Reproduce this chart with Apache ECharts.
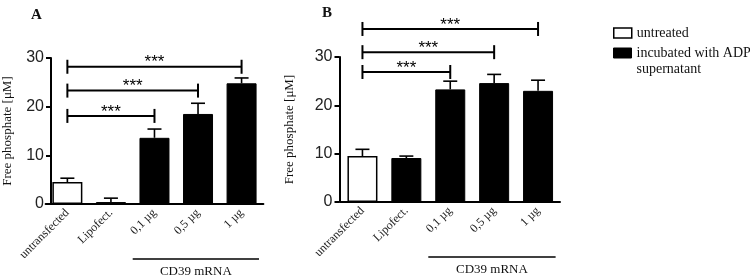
<!DOCTYPE html>
<html>
<head>
<meta charset="utf-8">
<script src="https://cdn.jsdelivr.net/npm/echarts@6/dist/echarts.min.js"></script>
<style>
  html, body { margin: 0; padding: 0; background: #fff; }
  #main { width: 750px; height: 277px; }
</style>
</head>
<body>
<div id="main"></div>
<script>
// categories and values
var categories = ['untransfected', 'Lipofect.', '0,1 µg', '0,5 µg', '1 µg'];
var untreatedIdx = [1, 0, 0, 0, 0];          // 1 = white bar (untreated)
var meanA = [4.5, 0.4, 13.6, 18.5, 24.8];
var errA  = [0.8, 0.8, 1.8, 2.2, 1.1];
var meanB = [9.5, 9.1, 23.3, 24.6, 23.0];
var errB  = [1.4, 0.4, 1.7, 1.8, 2.2];
var yTicks = [0, 10, 20, 30];
// significance brackets: from category 0 to category "end" at level
var bracketEndA = [2, 3, 4];
var bracketLvlA = [18.1, 23.3, 28.2];
var bracketEndB = [2, 3, 4];
var bracketLvlB = [26.9, 31.0, 35.8];
var bracketText = '***';
var groupLabel = 'CD39 mRNA';
var groupRange = [2, 4];

var serif = '"Liberation Serif", "Times New Roman", serif';
var sans = '"Liberation Sans", Arial, sans-serif';
var nameWhite = 'untreated';
var nameBlack = 'incubated with ADP supernatant';

var myChart = echarts.init(document.getElementById('main'));

function splitData(mean, flag) {
  var out = [];
  for (var i = 0; i < mean.length; i++) {
    out.push(untreatedIdx[i] === flag ? mean[i] : '-');
  }
  return out;
}

function errData(mean, err) {
  var out = [];
  for (var i = 0; i < mean.length; i++) out.push([i, mean[i], mean[i] + err[i]]);
  return out;
}

function bracketData(ends, lvls) {
  var out = [];
  for (var i = 0; i < ends.length; i++) out.push([ends[i], lvls[i]]);
  return out;
}

function renderErr(params, api) {
  var p0 = api.coord([api.value(0), api.value(1)]);
  var p1 = api.coord([api.value(0), api.value(2)]);
  var half = 7;
  var st = { stroke: '#000', lineWidth: 1.6 };
  return {
    type: 'group',
    children: [
      { type: 'line', shape: { x1: p0[0], y1: p0[1], x2: p1[0], y2: p1[1] }, style: st },
      { type: 'line', shape: { x1: p1[0] - half, y1: p1[1], x2: p1[0] + half, y2: p1[1] }, style: st }
    ]
  };
}

function renderBracket(params, api) {
  var a = api.coord([0, api.value(1)]);
  var b = api.coord([api.value(0), api.value(1)]);
  var st = { stroke: '#000', lineWidth: 2 };
  return {
    type: 'group',
    children: [
      { type: 'line', shape: { x1: a[0], y1: a[1], x2: b[0], y2: b[1] }, style: st },
      { type: 'line', shape: { x1: a[0], y1: a[1] - 7, x2: a[0], y2: a[1] + 7 }, style: st },
      { type: 'line', shape: { x1: b[0], y1: b[1] - 7, x2: b[0], y2: b[1] + 7 }, style: st },
      { type: 'text', x: (a[0] + b[0]) / 2, y: a[1] - 4,
        style: { text: bracketText, fill: '#000', font: '17px ' + sans, align: 'center', verticalAlign: 'middle' } }
    ]
  };
}

function renderGroup(params, api) {
  var bw = api.size([1, 0])[0];
  var l = api.coord([api.value(0), 0]);
  var r = api.coord([api.value(1), 0]);
  var x1 = l[0] - 0.5 * bw, x2 = r[0] + 0.4 * bw, y = l[1] + 55;
  return {
    type: 'group',
    children: [
      { type: 'line', shape: { x1: x1, y1: y, x2: x2, y2: y }, style: { stroke: '#000', lineWidth: 1.5 } },
      { type: 'text', x: (x1 + x2) / 2, y: y + 13,
        style: { text: groupLabel, fill: '#111', font: '13px ' + serif, align: 'center', verticalAlign: 'middle' } }
    ]
  };
}

function xAxisOpt(gi) {
  return {
    type: 'category', gridIndex: gi, data: categories,
    axisLine: { lineStyle: { color: '#000', width: 2 } },
    axisTick: { alignWithLabel: true, length: 4, lineStyle: { color: '#000', width: 2 } },
    axisLabel: { rotate: 45, margin: 7, color: '#222', fontFamily: serif, fontSize: 12 }
  };
}

function yAxisOpt(gi, offset, gap) {
  return {
    type: 'value', gridIndex: gi, min: 0, max: 30, interval: 10, offset: offset,
    name: 'Free phosphate [μM]', nameLocation: 'middle', nameGap: gap,
    nameTextStyle: { fontFamily: serif, fontSize: 13, color: '#111' },
    splitLine: { show: false },
    axisLine: { show: true, lineStyle: { color: '#000', width: 2 } },
    axisTick: { show: true, length: 5, lineStyle: { color: '#000', width: 2 } },
    axisLabel: { margin: 7, color: '#222', fontFamily: sans, fontSize: 16,
      formatter: function (v) { return yTicks.indexOf(v) >= 0 ? String(v) : ''; } }
  };
}

function barSeries(gi, mean) {
  return [
    { name: nameWhite, type: 'bar', xAxisIndex: gi, yAxisIndex: gi, barWidth: 30, barGap: '-100%',
      data: splitData(mean, 1), itemStyle: { color: '#fff', borderColor: '#000', borderWidth: 1.5 } },
    { name: nameBlack, type: 'bar', xAxisIndex: gi, yAxisIndex: gi, barWidth: 30, barGap: '-100%',
      data: splitData(mean, 0), itemStyle: { color: '#000', borderColor: '#000', borderWidth: 1 } }
  ];
}

function extraSeries(gi, mean, err, ends, lvls) {
  return [
    { type: 'custom', xAxisIndex: gi, yAxisIndex: gi, clip: false, z: 3,
      renderItem: renderErr, data: errData(mean, err) },
    { type: 'custom', xAxisIndex: gi, yAxisIndex: gi, clip: false, z: 3,
      renderItem: renderBracket, data: bracketData(ends, lvls) },
    { type: 'custom', xAxisIndex: gi, yAxisIndex: gi, clip: false, z: 3,
      renderItem: renderGroup, data: [groupRange] }
  ];
}

var option = {
  animation: false,
  backgroundColor: '#fff',
  title: [
    { text: 'A', left: 26, top: 3, textStyle: { fontFamily: serif, fontWeight: 'bold', fontSize: 15, color: '#111' } },
    { text: 'B', left: 317, top: 1, textStyle: { fontFamily: serif, fontWeight: 'bold', fontSize: 15, color: '#111' } }
  ],
  legend: [
    { orient: 'vertical', left: 608, top: 20, itemWidth: 18, itemHeight: 10, itemGap: 0,
      data: [{ name: nameWhite, icon: 'rect', itemStyle: { color: '#fff', borderColor: '#000', borderWidth: 1.5 } }],
      textStyle: { fontFamily: serif, fontSize: 14, color: '#111', lineHeight: 16 } },
    { orient: 'vertical', left: 608, top: 24, itemWidth: 18, itemHeight: 10, itemGap: 0,
      data: [{ name: nameBlack, icon: 'rect', itemStyle: { color: '#000', borderColor: '#000', borderWidth: 1 } }],
      // empty first line keeps the icon level with "incubated with ADP"
      formatter: function () { return ' \nincubated with ADP\nsupernatant'; },
      textStyle: { fontFamily: serif, fontSize: 14, color: '#111', lineHeight: 16 } }
  ],
  grid: [
    { left: 44.6, top: 58, width: 218.75, height: 146 },
    { left: 340.5, top: 57, width: 219.5, height: 145 }
  ],
  xAxis: [xAxisOpt(0), xAxisOpt(1)],
  yAxis: [yAxisOpt(0, -5.4, 37), yAxisOpt(1, 1, 43)],
  series: [].concat(
    barSeries(0, meanA),
    barSeries(1, meanB),
    extraSeries(0, meanA, errA, bracketEndA, bracketLvlA),
    extraSeries(1, meanB, errB, bracketEndB, bracketLvlB)
  )
};

myChart.setOption(option);
</script>
</body>
</html>
